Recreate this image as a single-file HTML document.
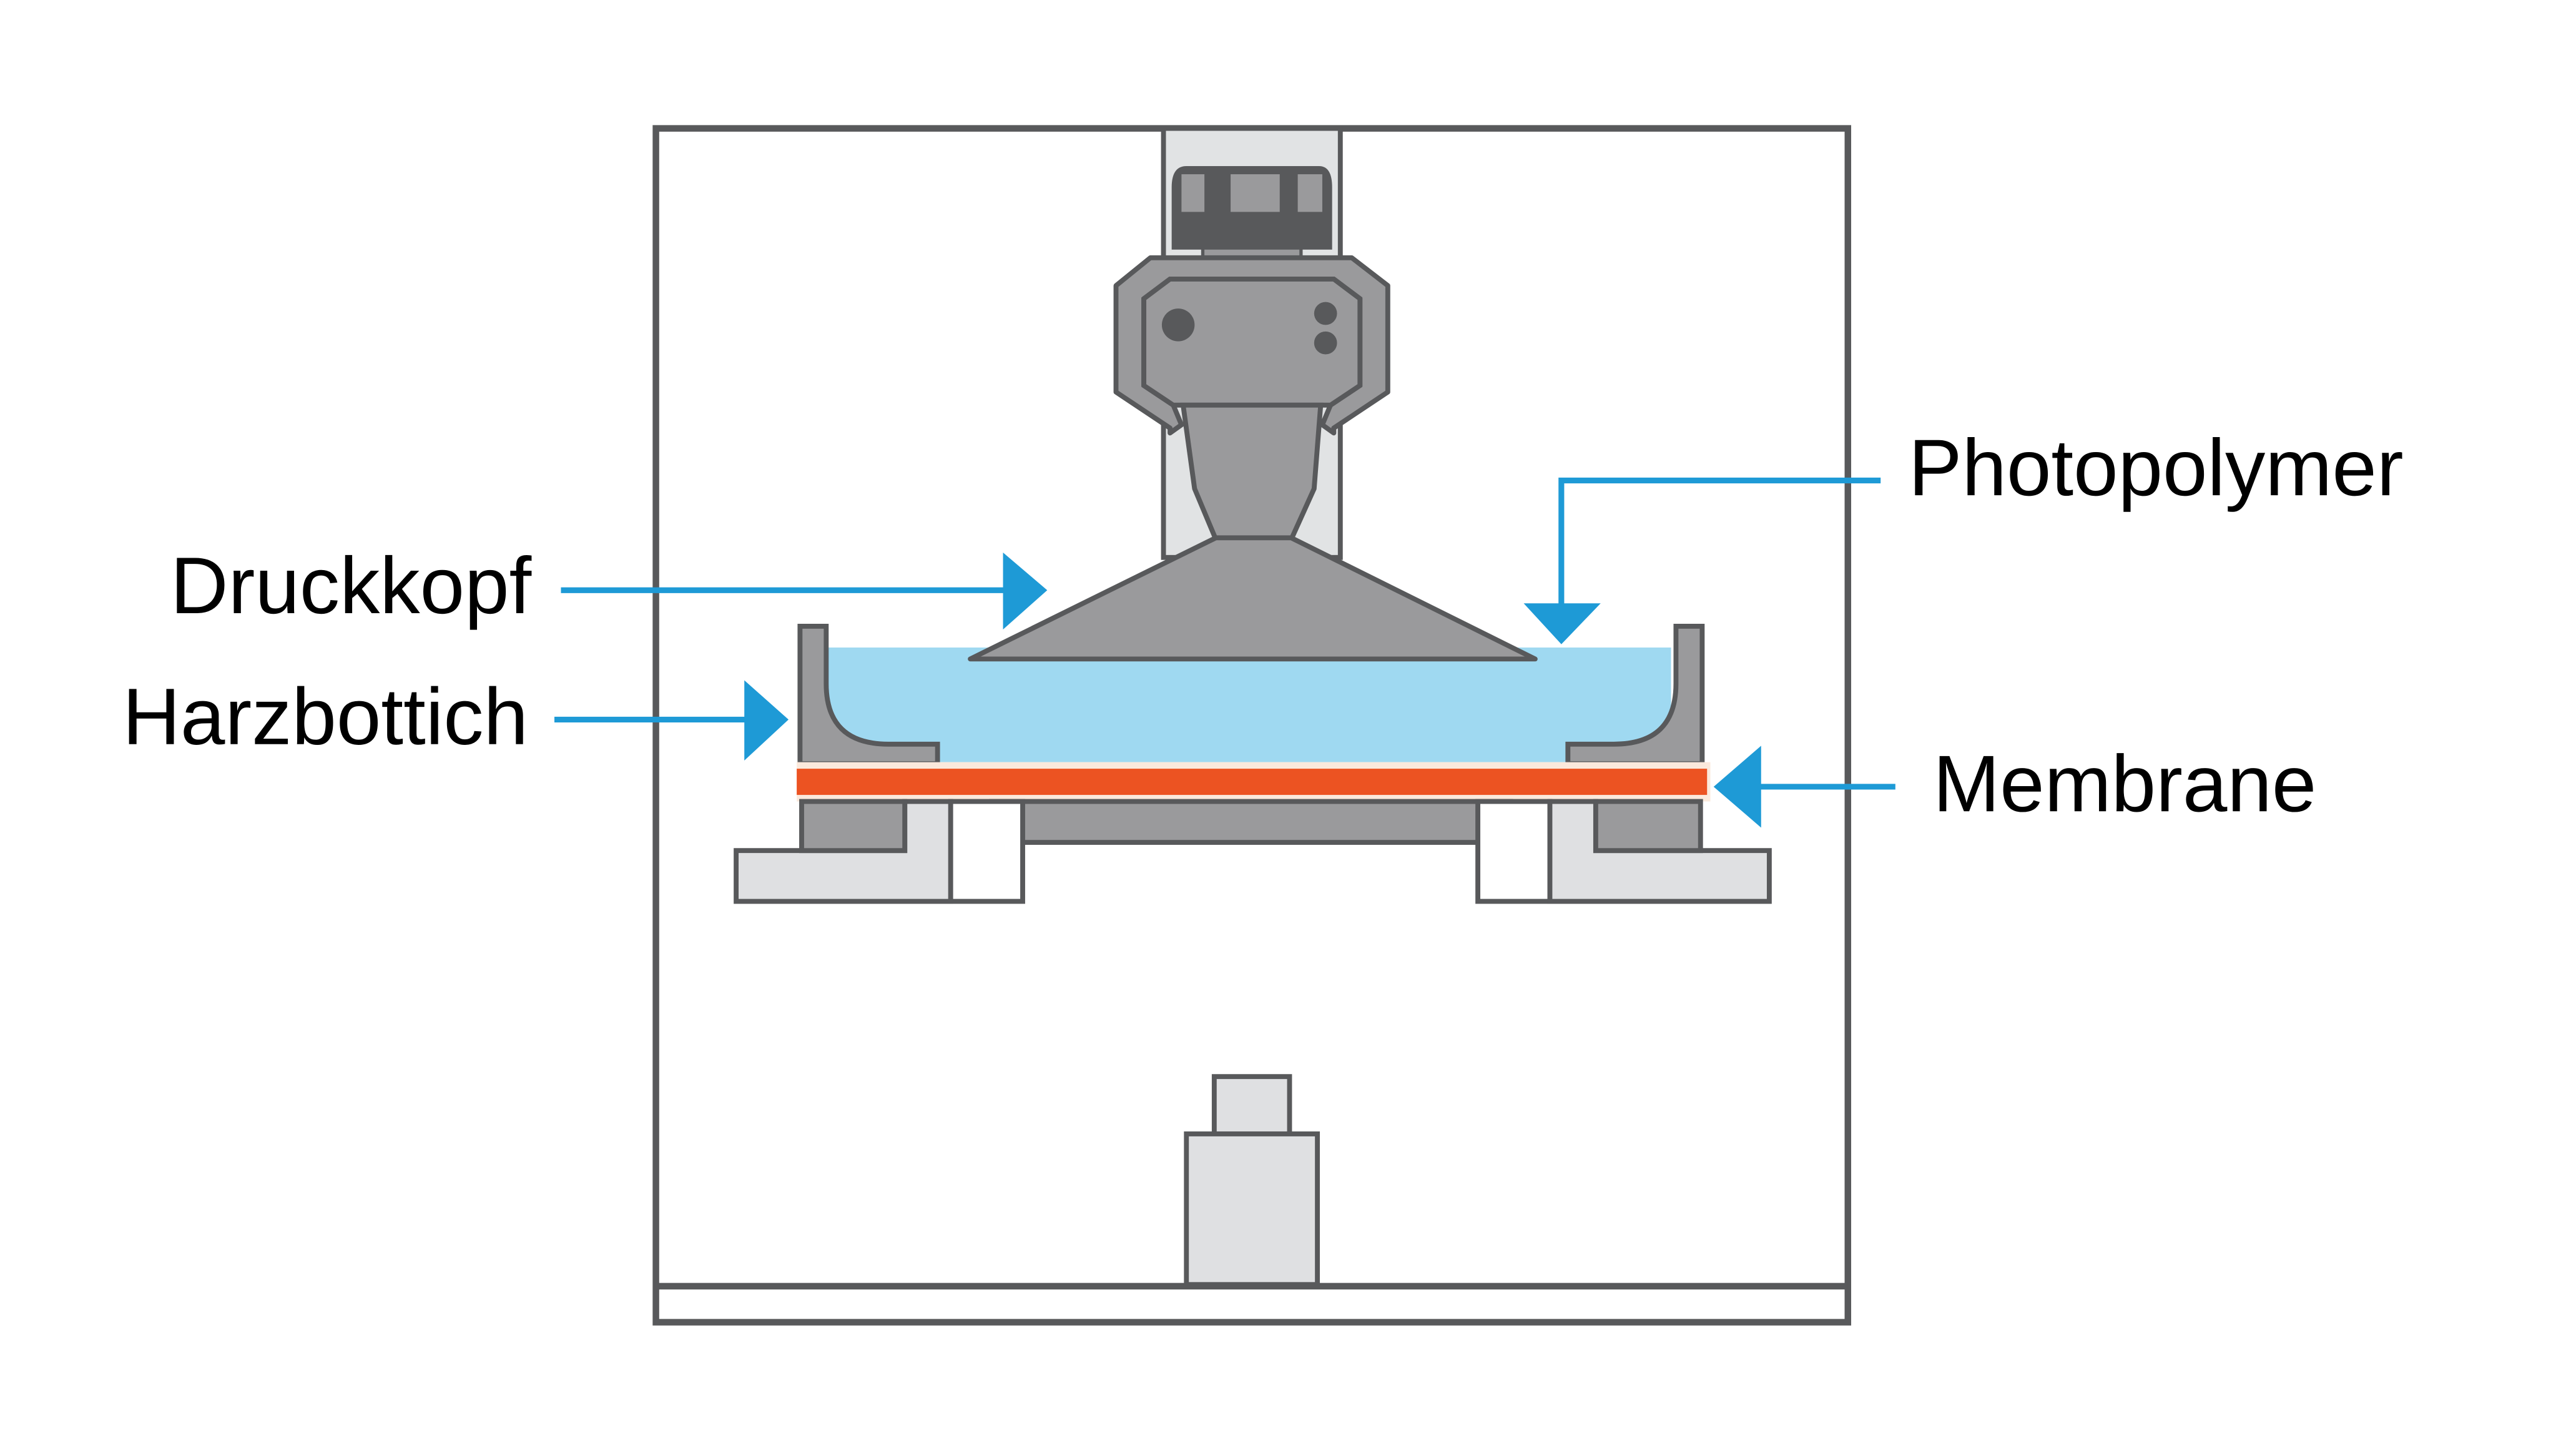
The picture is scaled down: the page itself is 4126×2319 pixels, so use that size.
<!DOCTYPE html>
<html><head><meta charset="utf-8"><style>
html,body{margin:0;padding:0;background:#fff;}
svg{display:block;}
text{font-family:"Liberation Sans",Arial,sans-serif;font-size:49px;fill:#000;}
</style></head><body>
<svg width="4126" height="2319" viewBox="-2.6 -2.4 1573.3 884.2" preserveAspectRatio="none" xmlns="http://www.w3.org/2000/svg">
<rect x="-10" y="-10" width="1600" height="900" fill="#fff"/>
<!-- frame -->
<rect x="398" y="76" width="728" height="729" fill="#fff" stroke="#58595b" stroke-width="4"/>
<line x1="398" y1="783" x2="1126" y2="783" stroke="#58595b" stroke-width="4"/>
<!-- column -->
<rect x="708" y="76" width="108" height="262" fill="#e1e3e4" stroke="#58595b" stroke-width="3"/>
<!-- top block -->
<rect x="732" y="140" width="60" height="16" fill="#9a9a9c" stroke="#58595b" stroke-width="2"/>
<path d="M722 99 H803 Q811 99 811 112 V150 H713 V112 Q713 99 722 99Z" fill="#58595b"/>
<rect x="719" y="104" width="14" height="23" fill="#9a9a9c"/>
<rect x="790" y="104" width="15" height="23" fill="#9a9a9c"/>
<rect x="749" y="104" width="30" height="23" fill="#9a9a9c"/>
<!-- bracket -->
<path d="M700 155 H823 L845 172 V237 L812 259 V262 L805 257 L810 245 L828 233 V180 L812 168 H712 L696 180 V233 L714 245 L719 257 L712 262 V259 L679 237 V172Z" fill="#9a9a9c" stroke="#58595b" stroke-width="3" stroke-linejoin="round"/>
<path d="M712 168 H812 L828 180 V233 L810 245 H714 L696 233 V180Z" fill="#9a9a9c" stroke="#58595b" stroke-width="3"/>
<ellipse cx="717" cy="196" rx="10" ry="10" fill="#58595b"/>
<circle cx="807" cy="189" r="7" fill="#58595b"/>
<circle cx="807" cy="207" r="7" fill="#58595b"/>
<!-- neck -->
<path d="M720 245 H804 L800 296 L786 327 H740 L727 296Z" fill="#9a9a9c" stroke="#58595b" stroke-width="3"/>
<!-- resin -->
<rect x="503" y="393" width="515" height="70" fill="#9fd9f1"/>
<!-- cone -->
<path d="M740 326 H786 L935 400 H590Z" fill="#9a9a9c" stroke="#58595b" stroke-width="3" stroke-linejoin="round"/>
<!-- vat walls -->
<path d="M486 380 H502 V415 Q502 452 540 452 H570 V464 H486Z" fill="#9a9a9c" stroke="#58595b" stroke-width="3"/>
<path d="M1037 380 H1021 V415 Q1021 452 983 452 H955 V464 H1037Z" fill="#9a9a9c" stroke="#58595b" stroke-width="3"/>
<!-- membrane -->
<rect x="484" y="463" width="558" height="24" fill="#fbe9dc"/>
<rect x="484" y="467" width="556" height="16" fill="#ec5322"/>
<!-- lower parts -->
<rect x="603" y="487" width="317" height="25" fill="#9a9a9c" stroke="#58595b" stroke-width="3"/>
<rect x="578" y="487" width="44" height="61" fill="#fff" stroke="#58595b" stroke-width="3"/>
<rect x="900" y="487" width="44" height="61" fill="#fff" stroke="#58595b" stroke-width="3"/>
<path d="M447 517 H550 V487 H578 V548 H447Z" fill="#dfe0e2" stroke="#58595b" stroke-width="3"/>
<path d="M1078 517 H972 V487 H944 V548 H1078Z" fill="#dfe0e2" stroke="#58595b" stroke-width="3"/>
<rect x="487" y="487" width="63" height="30" fill="#9a9a9c" stroke="#58595b" stroke-width="3"/>
<rect x="972" y="487" width="64" height="30" fill="#9a9a9c" stroke="#58595b" stroke-width="3"/>
<!-- bottom boxes -->
<rect x="739" y="655" width="46" height="35" fill="#dfe0e2" stroke="#58595b" stroke-width="3"/>
<rect x="722" y="690" width="80" height="92" fill="#dfe0e2" stroke="#58595b" stroke-width="3"/>
<!-- arrows -->
<g fill="#1e9ad6" stroke="#1e9ad6">
<line x1="340" y1="358" x2="615" y2="358" stroke-width="3.5"/>
<polygon points="610,335 637,358 610,382" stroke="none"/>
<line x1="336" y1="437" x2="455" y2="437" stroke-width="3.5"/>
<polygon points="452,413 479,437 452,462" stroke="none"/>
<polyline points="1146,291 951,291 951,370" fill="none" stroke-width="3.5"/>
<polygon points="928,366 975,366 951,391" stroke="none"/>
<line x1="1155" y1="478" x2="1068" y2="478" stroke-width="3.5"/>
<polygon points="1073,453 1044,478 1073,503" stroke="none"/>
</g>
<text x="322" y="372" text-anchor="end">Druckkopf</text>
<text x="320" y="452" text-anchor="end">Harzbottich</text>
<text x="1163" y="300">Photopolymer</text>
<text x="1178" y="493">Membrane</text>
</svg>
</body></html>
